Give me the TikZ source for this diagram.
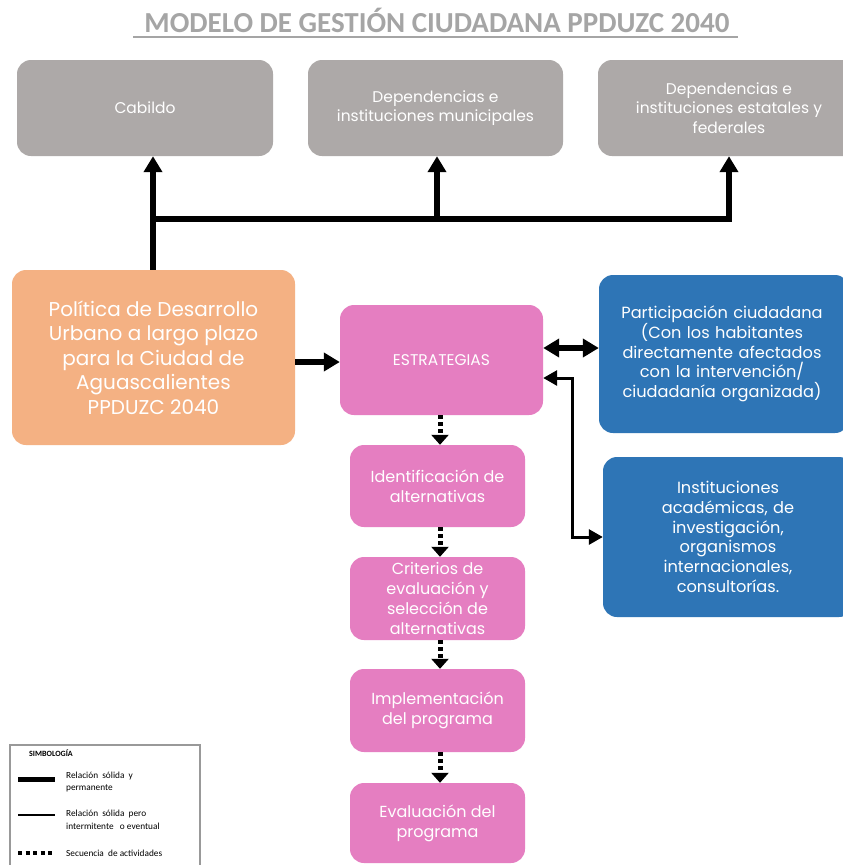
\documentclass[tikz,border=0pt]{standalone}
\usepackage{fontspec}
\setmainfont{Poppins}
\newfontfamily\calib{Carlito}
\usetikzlibrary{arrows.meta}
\definecolor{grayb}{RGB}{173,169,168}
\definecolor{orangeb}{RGB}{244,177,131}
\definecolor{pinkb}{RGB}{229,126,193}
\definecolor{blueb}{RGB}{46,117,182}
\definecolor{titlegray}{RGB}{165,165,165}
\tikzset{
  box/.style={rounded corners=14pt, align=center, text=white, inner sep=0pt, draw=none},
  graybox/.style={box, fill=grayb, font=\fontsize{15.5}{19.5}\selectfont},
  orangebox/.style={box, fill=orangeb, font=\fontsize{20}{24.5}\selectfont},
  pinkbox/.style={box, fill=pinkb, font=\fontsize{16}{20}\selectfont},
  bluebox/.style={box, fill=blueb, font=\fontsize{16.2}{19.7}\selectfont},
  thickline/.style={line width=6pt},
  thickarrow/.style={line width=6pt, -{Triangle[length=16pt,width=18pt]}},
  thickdouble/.style={line width=6pt, {Triangle[length=16pt,width=18pt]}-{Triangle[length=16pt,width=18pt]}},
  thinarrow/.style={line width=3pt, {Triangle[length=14pt,width=15pt]}-{Triangle[length=14pt,width=15pt]}},
  dotarrow/.style={line width=5pt, dash pattern=on 4pt off 3pt, -{Triangle[length=10pt,width=17pt]}},
  legtext/.style={anchor=west, font=\calib\fontsize{9.3}{12.5}\selectfont, align=left, inner sep=0pt}
}
\begin{document}
\begin{tikzpicture}[x=1pt,y=-1pt]
\useasboundingbox (0,0) rectangle (843,865);
\fill[white] (0,0) rectangle (843,865);
% title
\node[font=\calib\bfseries\fontsize{29}{32}\selectfont, text=titlegray, inner sep=0pt] (title) at (437,20) {MODELO DE GESTIÓN CIUDADANA PPDUZC 2040};
\draw[titlegray, line width=2pt] (133,37) -- (738,37);
% top boxes
\node[graybox, minimum width=256pt, minimum height=96pt] (cab) at (145,108) {Cabildo};
\node[graybox, minimum width=255pt, minimum height=96pt] (mun) at (435.5,108) {Dependencias e\\instituciones municipales};
\node[graybox, minimum width=262pt, minimum height=96pt] (est2) at (729,108) {Dependencias e\\instituciones estatales y\\federales};
% policy
\node[orangebox, minimum width=283pt, minimum height=175pt] (pol) at (153.5,357.5) {Política de Desarrollo\\Urbano a largo plazo\\para la Ciudad de\\Aguascalientes\\PPDUZC 2040};
% strategies
\node[pinkbox, minimum width=203pt, minimum height=110pt, font=\fontsize{15.5}{18}\selectfont] (est) at (441.5,360) {ESTRATEGIAS};
\node[pinkbox, minimum width=175pt, minimum height=82pt] (ide) at (437.5,486) {Identificación de\\alternativas};
\node[pinkbox, minimum width=175pt, minimum height=83pt] (cri) at (437.5,598.5) {Criterios de\\evaluación y\\selección de\\alternativas};
\node[pinkbox, minimum width=175pt, minimum height=83pt] (imp) at (437.5,710.5) {Implementación\\del programa};
\node[pinkbox, minimum width=175pt, minimum height=80pt] (eva) at (437.5,823) {Evaluación del\\programa};
% blue boxes
\node[bluebox, minimum width=250pt, minimum height=158pt, text width=250pt, align=center] (par) at (724,354) {\hspace*{-4pt}Participación ciudadana\\\hspace*{-4pt}(Con los habitantes\\\hspace*{-4pt}directamente afectados\\\hspace*{-4pt}con la intervención/\\\hspace*{-4pt}ciudadanía organizada)};
\node[bluebox, minimum width=250pt, minimum height=160pt, text width=250pt, align=center] (ins) at (728,537) {Instituciones\\académicas, de\\investigación,\\organismos\\internacionales,\\consultorías.};
% connectors: bus
\coordinate (j1) at (153,219);
\coordinate (j2) at (437,219);
\coordinate (j3) at (729,219);
\draw[thickline] (pol.north -| j1) -- (j1) -- ([xshift=3pt]j3);
\draw[thickarrow] (j1) -- (cab.south -| j1);
\draw[thickarrow] (j2) -- (mun.south -| j2);
\draw[thickarrow] (j3) -- (est2.south -| j3);
% policy to strategies
\draw[thickarrow] (pol.east |- 0,362) -- (est.west |- 0,362);
% double thick
\coordinate (d1) at (570,348);
\draw[thickdouble] (est.east |- d1) -- (par.west |- d1);
% thin double
\coordinate (t1) at (572,378);
\coordinate (t2) at (572,537);
\draw[thinarrow, rounded corners=0pt] (est.east |- t1) -- (t1) -- (t2) -- (ins.west |- t2);
% dotted sequence
\coordinate (sx) at (440,0);
\draw[dotarrow] (est.south -| sx) -- (ide.north -| sx);
\draw[dotarrow] (ide.south -| sx) -- (cri.north -| sx);
\draw[dotarrow] (cri.south -| sx) -- (imp.north -| sx);
\draw[dotarrow] (imp.south -| sx) -- (eva.north -| sx);
% legend
\draw[gray!80, line width=1.2pt] (10,745) rectangle (200,875);
\node[legtext, font=\calib\bfseries\fontsize{8}{10}\selectfont] (lt) at (29,753) {SIMBOLOGÍA};
\coordinate (la1) at (18,779); \coordinate (la2) at (55,779);
\draw[line width=5pt] (la1) -- (la2);
\node[legtext] (l1) at (66,782) {Relación\ \ sólida\ \ y\\permanente};
\coordinate (lb1) at (18,815); \coordinate (lb2) at (55,815);
\draw[line width=2pt] (lb1) -- (lb2);
\node[legtext] (l2) at (66,820) {Relación\ \ sólida\ \ pero\\intermitente\ \ \ o eventual};
\coordinate (lc1) at (18,853); \coordinate (lc2) at (55,853);
\draw[line width=4pt, dash pattern=on 4pt off 3.5pt] (lc1) -- (lc2);
\node[legtext] (l3) at (66,853) {Secuencia\ \ de\ actividades};
\end{tikzpicture}
\end{document}
